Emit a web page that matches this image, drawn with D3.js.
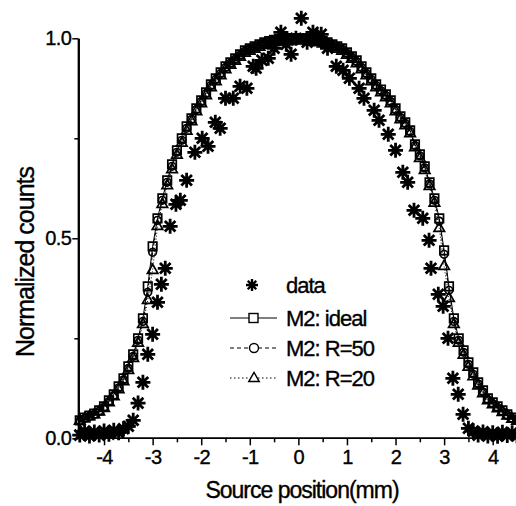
<!DOCTYPE html>
<meta charset="utf-8">
<script src="https://d3js.org/d3.v7.min.js"></script>
<style>
  body { margin: 0; background: #fff; }
  text { font-family: "Liberation Sans", Arial, sans-serif; fill: #000; stroke: #000; stroke-width: 0.35px; }
</style>
<div id="chart"></div>
<script>
// source positions (mm) for the model curves
var positions = [-4.5,-4.4,-4.3,-4.2,-4.1,-4.0,-3.9,-3.8,-3.7,-3.6,-3.5,-3.4,-3.3,-3.2,-3.1,-3.0,
  -2.9,-2.8,-2.7,-2.6,-2.5,-2.4,-2.3,-2.2,-2.1,-2.0,-1.9,-1.8,-1.7,-1.6,-1.5,-1.4,-1.3,-1.2,-1.1,-1.0,
  -0.9,-0.8,-0.7,-0.6,-0.5,-0.4,-0.3,-0.2,-0.1,0,0.1,0.2,0.3,0.4,0.5,0.6,0.7,0.8,0.9,1.0,
  1.1,1.2,1.3,1.4,1.5,1.6,1.7,1.8,1.9,2.0,2.1,2.2,2.3,2.4,2.5,2.6,2.7,2.8,2.9,3.0,
  3.1,3.2,3.3,3.4,3.5,3.6,3.7,3.8,3.9,4.0,4.1,4.2,4.3,4.4,4.5];

var ideal = [.045,.052,.057,.062,.070,.080,.095,.110,.130,.150,.180,.210,.250,.300,.380,.480,
  .550,.600,.645,.685,.720,.750,.780,.800,.825,.845,.865,.885,.900,.915,.930,.940,.950,.960,.970,.975,
  .980,.985,.990,.993,.996,.998,1,1,1,1,1,1,.998,.996,.993,.990,.985,.980,.975,.965,
  .955,.945,.930,.915,.900,.885,.872,.860,.845,.825,.805,.790,.770,.735,.710,.680,.640,.600,.550,.470,
  .380,.300,.250,.220,.190,.165,.140,.120,.100,.090,.080,.070,.060,.052,.046];

var r50 = [.044,.050,.055,.060,.068,.078,.092,.107,.126,.146,.175,.205,.245,.292,.365,.465,
  .545,.595,.640,.680,.715,.745,.775,.797,.822,.842,.862,.882,.897,.912,.927,.938,.948,.958,.968,.973,
  .978,.983,.988,.991,.994,.996,.998,.998,.998,.998,.998,.998,.996,.994,.991,.988,.983,.978,.973,.963,
  .953,.942,.927,.912,.897,.882,.869,.857,.842,.822,.802,.787,.767,.732,.706,.676,.636,.595,.543,.460,
  .370,.292,.245,.215,.185,.160,.136,.116,.097,.087,.077,.067,.058,.050,.045];

var r20 = [.043,.049,.054,.059,.066,.075,.089,.104,.122,.142,.170,.200,.238,.285,.345,.420,
  .530,.585,.632,.672,.708,.738,.768,.792,.817,.837,.857,.877,.892,.907,.922,.933,.943,.953,.963,.968,
  .973,.978,.983,.986,.989,.991,.993,.994,.994,.994,.994,.993,.991,.989,.986,.983,.978,.973,.968,.958,
  .948,.937,.922,.907,.892,.877,.864,.852,.837,.817,.797,.782,.762,.727,.700,.670,.630,.588,.525,.430,
  .350,.285,.238,.208,.178,.154,.131,.112,.094,.084,.074,.065,.056,.048,.043];

// measured data
var dataX = [-4.5,-4.4,-4.3,-4.2,-4.1,-4.0,-3.9,-3.8,-3.7,-3.6,-3.5,-3.4,-3.3,-3.2,-3.1,-3.0,
  -2.9,-2.82,-2.74,-2.64,-2.52,-2.43,-2.3,-2.13,-1.98,-1.86,-1.71,-1.61,-1.5,-1.34,-1.2,-1.06,
  -0.93,-0.87,-0.75,-0.62,-0.5,-0.36,-0.25,-0.15,-0.05,0.06,0.18,0.3,0.47,0.6,0.78,0.92,
  1.05,1.25,1.35,1.56,1.66,1.85,2.0,2.15,2.25,2.38,2.56,2.69,2.73,2.88,2.98,3.08,
  3.18,3.29,3.39,3.5,3.6,3.7,3.8,3.9,4.0,4.1,4.2,4.3,4.4,4.5];
var dataY = [.008,.018,.006,.016,.008,.018,.010,.020,.014,.024,.030,.045,.088,.140,.210,.260,
  .340,.385,.425,.530,.585,.595,.645,.715,.750,.730,.790,.775,.850,.850,.880,.875,
  .930,.925,.945,.950,.975,1.015,.985,.960,1.0,1.050,.990,1.015,1.010,.975,.930,.920,
  .900,.875,.850,.820,.795,.760,.720,.665,.640,.570,.550,.495,.425,.360,.330,.250,
  .150,.110,.060,.025,.018,.008,.016,.006,.014,.005,.015,.007,.014,.006];

var xTicks = [-4,-3,-2,-1,0,1,2,3,4];
var yTicks = [0.0, 0.5, 1.0];
var legendLabels = ["data", "M2: ideal", "M2: R=50", "M2: R=20"];

var W = 516, H = 506;
var svg = d3.select("#chart").append("svg")
  .attr("width", W).attr("height", H);

var x = d3.scaleLinear().domain([-4.53, 4.5]).range([78.3, 517]);
var y = d3.scaleLinear().domain([0, 1]).range([438.3, 38.3]);

// x axis
var xAxis = svg.append("g")
  .attr("transform", "translate(0," + y(0) + ")")
  .call(d3.axisBottom(x).tickValues(xTicks).tickFormat(function(d) { return String(d); })
    .tickSize(7).tickPadding(5));
xAxis.append("g")
  .call(d3.axisBottom(x).tickValues([-3.5,-2.5,-1.5,-0.5,0.5,1.5,2.5,3.5]).tickSize(4).tickFormat(""));
xAxis.selectAll(".domain").attr("stroke-width", 1.6);

// y axis
var yAxis = svg.append("g")
  .attr("transform", "translate(" + x.range()[0] + ",0)")
  .call(d3.axisLeft(y).tickValues(yTicks).tickFormat(d3.format(".1f")).tickSize(6).tickPadding(1).tickSizeOuter(0));
yAxis.append("g")
  .call(d3.axisLeft(y).tickValues([0.25, 0.75]).tickSize(4).tickFormat("").tickSizeOuter(0));
yAxis.selectAll(".domain").attr("stroke-width", 2);

svg.selectAll(".tick text")
  .style("font-size", "20px")
  .style("letter-spacing", "-0.6px")
  .style("font-family", "'Liberation Sans', Arial, sans-serif");
xAxis.selectAll(".tick line").attr("stroke-width", 1.5);
yAxis.selectAll(".tick line").attr("stroke-width", 1.5);
xAxis.selectAll(".domain").attr("d", "M" + x.range()[0] + ",0H" + W);

// axis titles
svg.append("text")
  .attr("x", 302).attr("y", 498)
  .attr("text-anchor", "middle")
  .style("font-size", "23px").style("letter-spacing", "-1px")
  .text("Source position(mm)");
svg.append("text")
  .attr("transform", "translate(34,262) rotate(-90)")
  .attr("text-anchor", "middle")
  .style("font-size", "25px").style("letter-spacing", "-1px")
  .text("Normalized counts");

// marker shapes
function star(r) {
  var d = "";
  for (var i = 0; i < 4; i++) {
    var a = i * Math.PI / 4;
    d += "M" + (-r * Math.cos(a)) + "," + (-r * Math.sin(a)) + "L" + (r * Math.cos(a)) + "," + (r * Math.sin(a));
  }
  return d;
}
var sq = d3.symbol().type(d3.symbolSquare).size(72)();
var tri = d3.symbol().type(d3.symbolTriangle).size(48)();

var models = [
  {vals: ideal, dash: null, shape: "square"},
  {vals: r50, dash: "3,2", shape: "circle"},
  {vals: r20, dash: "1,2", shape: "triangle"}
];

var line = d3.line()
  .x(function(d) { return x(d[0]); })
  .y(function(d) { return y(d[1]); });

models.forEach(function(m) {
  var pts = positions.map(function(p, i) { return [p, m.vals[i]]; });
  svg.append("path")
    .attr("d", line(pts))
    .attr("fill", "none").attr("stroke", "#000").attr("stroke-width", 1)
    .attr("stroke-dasharray", m.dash);
  var g = svg.append("g");
  pts.forEach(function(d) {
    if (m.shape === "circle") {
      g.append("circle").attr("cx", x(d[0])).attr("cy", y(d[1])).attr("r", 3.8)
        .attr("fill", "none").attr("stroke", "#000").attr("stroke-width", 1.7);
    } else {
      g.append("path").attr("d", m.shape === "square" ? sq : tri)
        .attr("transform", "translate(" + x(d[0]) + "," + y(d[1]) + ")")
        .attr("fill", "none").attr("stroke", "#000").attr("stroke-width", 1.7);
    }
  });
});

// data stars
svg.append("g").selectAll("path")
  .data(dataX.map(function(v, i) { return [v, dataY[i]]; }))
  .enter().append("path")
  .attr("d", star(7.5))
  .attr("transform", function(d) { return "translate(" + x(d[0]) + "," + y(d[1]) + ")"; })
  .attr("stroke", "#000").attr("stroke-width", 2.8);

// legend
var legY = [285, 318, 348, 378];
var lg = svg.append("g");
lg.append("path").attr("d", star(6)).attr("transform", "translate(252," + legY[0] + ")")
  .attr("stroke", "#000").attr("stroke-width", 2.4);
[null, "4,3", "1.5,2.5"].forEach(function(dash, i) {
  var yy = legY[i + 1];
  lg.append("line").attr("x1", 230).attr("x2", 277).attr("y1", yy).attr("y2", yy)
    .attr("stroke", "#000").attr("stroke-width", 1.2).attr("stroke-dasharray", dash);
});
lg.append("rect").attr("x", 249).attr("y", legY[1] - 4.5).attr("width", 9).attr("height", 9)
  .attr("fill", "#fff").attr("stroke", "#000").attr("stroke-width", 1.4);
lg.append("circle").attr("cx", 254).attr("cy", legY[2]).attr("r", 4.5)
  .attr("fill", "#fff").attr("stroke", "#000").attr("stroke-width", 1.4);
lg.append("path").attr("d", tri).attr("transform", "translate(254," + (legY[3] + 0.5) + ")")
  .attr("fill", "#fff").attr("stroke", "#000").attr("stroke-width", 1.4);
lg.selectAll("text.leg")
  .data(legendLabels)
  .enter().append("text")
  .attr("x", 286)
  .attr("y", function(d, i) { return legY[i]; })
  .attr("dy", "0.35em")
  .style("font-size", "22px").style("letter-spacing", "-1px")
  .text(function(d) { return d; });
</script>
